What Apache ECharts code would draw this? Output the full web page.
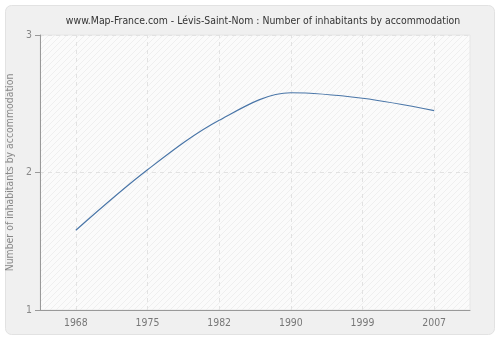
<!DOCTYPE html>
<html><head><meta charset="utf-8">
<script src="https://cdn.jsdelivr.net/npm/echarts@6/dist/echarts.min.js"></script>
<style>html,body{margin:0;padding:0;background:#fff}#c{width:500px;height:340px}</style>
</head><body><div id="c"></div>
<script>
const titleText = "www.Map-France.com - Lévis-Saint-Nom : Number of inhabitants by accommodation";
const yAxisName = "Number of inhabitants by accommodation";
const categories = ["1968", "1975", "1982", "1990", "1999", "2007"];
const values = [1.58, 2.02, 2.38, 2.58, 2.54, 2.45];
const yTicks = [1, 2, 3];

// hatch pattern for the plot area
const pc = document.createElement('canvas');
pc.width = 6; pc.height = 6;
const pctx = pc.getContext('2d');
pctx.fillStyle = '#fbfbfb';
pctx.fillRect(0, 0, 6, 6);
pctx.strokeStyle = '#efefef';
pctx.lineWidth = 1;
pctx.beginPath();
pctx.moveTo(0, 6); pctx.lineTo(6, 0);
pctx.moveTo(-1, 1); pctx.lineTo(1, -1);
pctx.moveTo(5, 7); pctx.lineTo(7, 5);
pctx.stroke();

const chart = echarts.init(document.getElementById('c'), null, {renderer: 'canvas'});
const condFont = 'DejaVu Sans Condensed';
chart.setOption({
  animation: false,
  backgroundColor: '#ffffff',
  graphic: [{
    type: 'rect', z: -10,
    shape: {x: 5.5, y: 5.5, width: 489, height: 329, r: 6},
    style: {fill: '#f0f0f0', stroke: '#e2e2e2', lineWidth: 1}
  }],
  title: {
    text: titleText, left: 258, top: 11, textAlign: 'center',
    textStyle: {fontFamily: condFont, fontSize: 10.4, fontWeight: 'normal', color: '#333'}
  },
  grid: {
    left: 40, right: 30, top: 35, bottom: 30, show: true,
    outerBoundsMode: 'none', containLabel: false,
    backgroundColor: {image: pc, repeat: 'repeat'},
    borderColor: '#e6e6e6', borderWidth: 1
  },
  xAxis: {
    type: 'category', data: categories, boundaryGap: true,
    axisLine: {lineStyle: {color: '#999', width: 1}},
    axisTick: {alignWithLabel: true, length: 5, lineStyle: {color: '#999'}},
    axisLabel: {fontFamily: condFont, fontSize: 10.4, color: '#777', margin: 8},
    splitLine: {show: false}
  },
  yAxis: {
    type: 'value', min: yTicks[0], max: yTicks[yTicks.length - 1], interval: 1,
    name: yAxisName, nameLocation: 'middle', nameGap: 15,
    nameTextStyle: {fontFamily: condFont, fontSize: 10.4, color: '#888'},
    axisLine: {show: true, lineStyle: {color: '#999', width: 1}},
    axisTick: {show: true, length: 5, lineStyle: {color: '#999'}},
    axisLabel: {fontFamily: condFont, fontSize: 10.4, color: '#888', margin: 8},
    splitLine: {show: true, lineStyle: {color: '#e2e2e2', type: [4, 4]}}
  },
  series: [{
    type: 'line', data: values, smooth: 0.34, showSymbol: false,
    lineStyle: {color: '#4a76a8', width: 1.2},
    markLine: {
      silent: true, symbol: ['none', 'none'], label: {show: false},
      lineStyle: {color: '#e2e2e2', type: [4, 4], width: 1},
      z: 1,
      data: categories.map(c => ({xAxis: c}))
    }
  }]
});
</script></body></html>
